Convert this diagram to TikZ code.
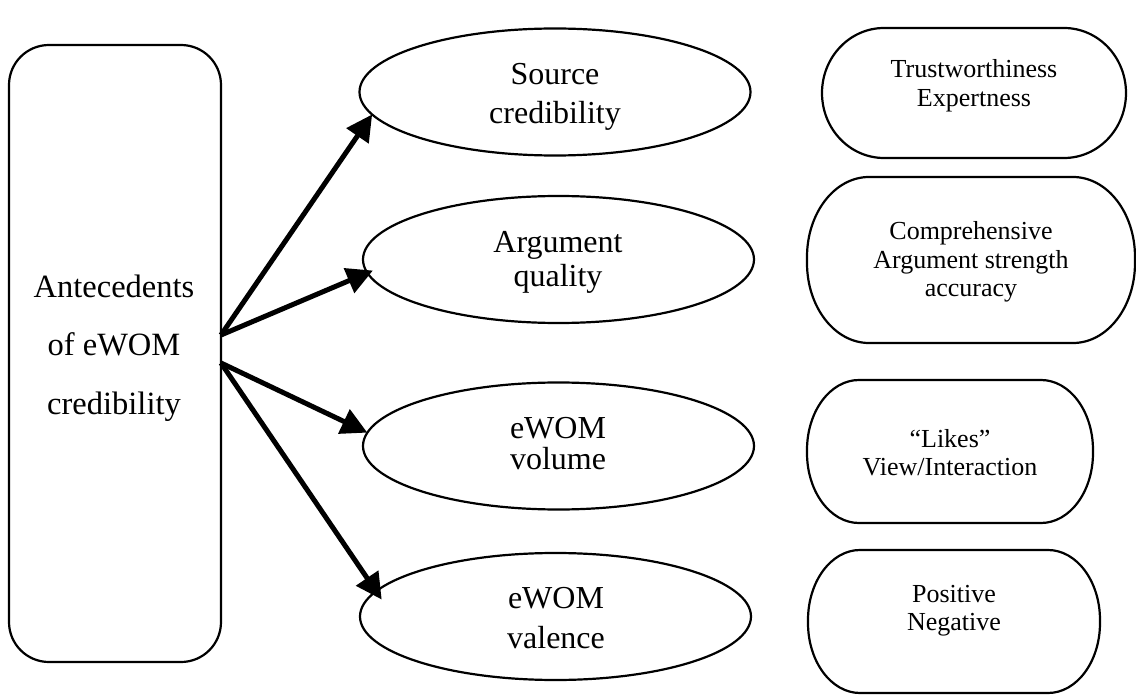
\documentclass[tikz,border=0pt]{standalone}
\usepackage{fontspec}
\setmainfont{Liberation Serif}
\usetikzlibrary{shapes.geometric,arrows.meta}
% name, cx, cy, width, height, corner x radius, corner y radius
\newcommand{\pillshape}[7]{%
  \node[inner sep=0pt,outer sep=0pt,minimum width=#4pt,minimum height=#5pt] (#1) at (#2,#3) {};
  \draw[pill] ([xshift=#6pt]#1.north west) -- ([xshift=-#6pt]#1.north east)
    arc[start angle=90,end angle=0,x radius=#6pt,y radius=#7pt]
    -- ([yshift=#7pt]#1.south east)
    arc[start angle=0,end angle=-90,x radius=#6pt,y radius=#7pt]
    -- ([xshift=#6pt]#1.south west)
    arc[start angle=270,end angle=180,x radius=#6pt,y radius=#7pt]
    -- ([yshift=-#7pt]#1.north west)
    arc[start angle=180,end angle=90,x radius=#6pt,y radius=#7pt] -- cycle;}
\begin{document}
\begin{tikzpicture}[x=1pt,y=-1pt,
  pill/.style={line width=2.2pt},
  boxshape/.style={draw,line width=2.2pt,inner sep=0pt,outer sep=0pt},
  ell/.style={ellipse,draw,line width=2.2pt,inner sep=0pt,outer sep=0pt,minimum width=391pt,minimum height=127pt},
  lbl/.style={anchor=base,align=center,inner sep=0pt},
  bigtxt/.style={font=\fontsize{32}{#1}\selectfont},
  smalltxt/.style={font=\fontsize{26}{28.5}\selectfont},
  arr/.style={line width=5pt,-{Triangle[length=26pt,width=26pt]}}]
\useasboundingbox (0,0) rectangle (1136,695);

% left box
\node[boxshape,rounded corners=40pt,minimum width=212pt,minimum height=617pt] (L) at (115,353.5) {};
\node[lbl,font=\fontsize{32.5}{58.5}\selectfont] (Lt) at (114,414) {Antecedents\\of eWOM\\credibility};

% ellipses
\node[ell] (e1) at (555,92) {};
\node[ell] (e2) at (558.5,259.5) {};
\node[ell] (e3) at (558.5,446) {};
\node[ell] (e4) at (555.5,616.5) {};
\node[lbl,bigtxt=39] (e1t) at (555,124) {Source\\credibility};
\node[lbl,bigtxt=34] (e2t) at (558,287) {Argument\\quality};
\node[lbl,bigtxt=31] (e3t) at (558,469) {eWOM\\volume};
\node[lbl,bigtxt=40] (e4t) at (556,648) {eWOM\\valence};

% right boxes
\pillshape{r1}{974}{93}{304}{130}{62}{65}
\pillshape{r2}{971}{260}{328}{166}{62}{80}
\pillshape{r3}{950}{451.5}{286}{143}{52}{70}
\pillshape{r4}{954}{621.5}{292}{143}{52}{70}
\node[lbl,smalltxt] (r1t) at (974,106.5) {Trustworthiness\\Expertness};
\node[lbl,smalltxt] (r2t) at (971,297) {Comprehensive\\Argument strength\\accuracy};
\node[lbl,smalltxt] (r3t) at (950,475.5) {“Likes”\\View/Interaction};
\node[lbl,smalltxt] (r4t) at (954,630.5) {Positive\\Negative};

% arrows
\draw[arr] ([yshift=18.5pt]L.east) -- (e1.187);
\draw[arr,shorten >=-6pt] ([yshift=18.5pt]L.east) -- (e2.184.5);
\draw[arr] ([yshift=-9.5pt]L.east) -- (e3.176.8);
\draw[arr,shorten >=-10pt] ([yshift=-9.5pt]L.east) -- (e4.172.7);
\end{tikzpicture}
\end{document}
